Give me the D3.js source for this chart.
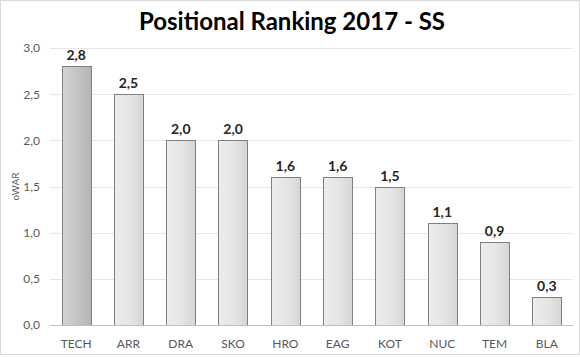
<!DOCTYPE html>
<html><head><meta charset="utf-8">
<script src="https://cdn.jsdelivr.net/npm/d3@7"></script>
<style>body{margin:0;background:#fff;} svg{display:block;font-family:Lato,"Open Sans",sans-serif;}</style>
</head><body><svg id="c" width="580" height="357"></svg>
<script>
const categories = ["TECH","ARR","DRA","SKO","HRO","EAG","KOT","NUC","TEM","BLA"];
const values = [2.8,2.5,2.0,2.0,1.6,1.6,1.5,1.1,0.9,0.3];
const yTicks = [0,0.5,1,1.5,2,2.5,3];
const title = "Positional Ranking 2017 - SS";
const yLabel = "oWAR";

const svg = d3.select("#c");
const W = 580, H = 357;
const m = {left:50, right:7, top:48, bottom:32};
const fmt = v => d3.format(".1f")(v).replace(".", ",");

svg.append("rect").attr("x",0.5).attr("y",0.5).attr("width",W-1).attr("height",H-3)
  .attr("fill","#fff").attr("stroke","#d9d9d9");

const defs = svg.append("defs");
const g1 = defs.append("linearGradient").attr("id","gHi");
g1.append("stop").attr("offset","0%").attr("stop-color","#d4d4d4");
g1.append("stop").attr("offset","100%").attr("stop-color","#b4b4b4");
const g2 = defs.append("linearGradient").attr("id","gLo");
g2.append("stop").attr("offset","0%").attr("stop-color","#ececec");
g2.append("stop").attr("offset","50%").attr("stop-color","#e6e6e6");
g2.append("stop").attr("offset","100%").attr("stop-color","#d6d6d6");

const x = d3.scaleBand().domain(categories).range([m.left, W-m.right]).paddingInner(0.44).paddingOuter(0.22);
const y = d3.scaleLinear().domain([0,3]).range([H-m.bottom, m.top]);

svg.append("g").selectAll("line").data(yTicks.filter(d=>d>0)).join("line")
  .attr("x1",m.left).attr("x2",W-m.right)
  .attr("y1",d=>Math.round(y(d))+0.5).attr("y2",d=>Math.round(y(d))+0.5)
  .attr("stroke","#e6e6e6");

const ya = svg.append("g").attr("transform",`translate(${m.left},0)`)
  .call(d3.axisLeft(y).tickValues(yTicks).tickFormat(fmt).tickSize(0).tickPadding(10));
ya.select(".domain").remove();
ya.selectAll("text").attr("fill","#595959").attr("font-size","12px").attr("font-family","Lato,'Open Sans',sans-serif");

svg.append("g").selectAll("rect").data(values).join("rect")
  .attr("x",(d,i)=>Math.round(x(categories[i]))+0.5)
  .attr("y",d=>Math.round(y(d))+0.5)
  .attr("width",Math.round(x.bandwidth()))
  .attr("height",d=>Math.round(y(0))-Math.round(y(d)))
  .attr("fill",(d,i)=>i===0?"url(#gHi)":"url(#gLo)")
  .attr("stroke","#7f7f7f").attr("stroke-width",1);

svg.append("line").attr("x1",m.left).attr("x2",W-m.right)
  .attr("y1",Math.round(y(0))+0.5).attr("y2",Math.round(y(0))+0.5).attr("stroke","#bfbfbf");

const xa = svg.append("g").attr("transform",`translate(0,${y(0)})`)
  .call(d3.axisBottom(x).tickSize(0).tickPadding(14));
xa.select(".domain").remove();
xa.selectAll("text").attr("fill","#595959").attr("font-size","12px").attr("font-family","Lato,'Open Sans',sans-serif");

svg.append("g").selectAll("text").data(values).join("text")
  .attr("x",(d,i)=>x(categories[i])+x.bandwidth()/2)
  .attr("y",d=>y(d)-6)
  .attr("text-anchor","middle").attr("font-weight","bold").attr("font-size","14px")
  .attr("fill","#262626").text(fmt);

svg.append("text").attr("x",W/2+2).attr("y",30).attr("text-anchor","middle")
  .attr("font-weight","bold").attr("font-size","24px").attr("fill","#000").text(title);

svg.append("text").attr("transform",`translate(19,${(y(0)+y(3))/2}) rotate(-90)`)
  .attr("text-anchor","middle").attr("font-size","10px").attr("fill","#595959").text(yLabel);
</script></body></html>
